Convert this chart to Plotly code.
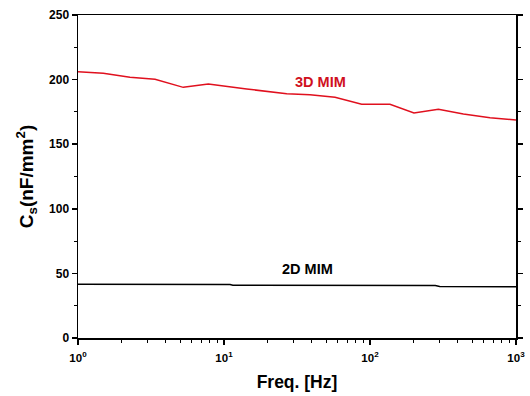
import plotly.graph_objects as go

# Data
freq_3d = [1, 1.49, 2.27, 3.37, 5.26, 7.81, 14.3, 26.9, 38.8, 57.6, 87.7, 137, 200, 294, 436, 664, 1000]
cs_3d = [206.1, 204.9, 201.8, 200.2, 194.0, 196.6, 192.7, 189.1, 188.3, 186.3, 180.9, 180.9, 174.1, 177.0, 173.4, 170.5, 168.7]

freq_2d = [1, 11.0, 11.5, 280, 300, 1000]
cs_2d = [41.6, 41.4, 40.8, 40.6, 39.8, 39.7]

x_tickvals = [1, 10, 100, 1000]
x_ticktext = ["<b>10<sup>0</sup></b>", "<b>10<sup>1</sup></b>", "<b>10<sup>2</sup></b>", "<b>10<sup>3</sup></b>"]
y_tickvals = [0, 50, 100, 150, 200, 250]
y_ticktext = ["<b>%d</b>" % v for v in y_tickvals]

font_family = "Liberation Sans, Arial, sans-serif"

fig = go.Figure()
fig.add_trace(go.Scatter(x=freq_3d, y=cs_3d, mode="lines",
                         line=dict(color="#e0101e", width=1.5), showlegend=False))
fig.add_trace(go.Scatter(x=freq_2d, y=cs_2d, mode="lines",
                         line=dict(color="#000000", width=1.5), showlegend=False))

fig.add_annotation(x=1.658, y=198, xref="x", yref="y", text="<b>3D MIM</b>",
                   showarrow=False, font=dict(color="#d0101e", size=14.5, family=font_family))
fig.add_annotation(x=1.575, y=53.4, xref="x", yref="y", text="<b>2D MIM</b>",
                   showarrow=False, font=dict(color="#000000", size=14.5, family=font_family))

fig.update_layout(
    width=530, height=396,
    margin=dict(l=78, r=14, t=15, b=58),
    paper_bgcolor="white", plot_bgcolor="white",
    font=dict(family=font_family, color="black"),
    xaxis=dict(
        type="log", range=[0, 3], automargin=False,
        tickvals=x_tickvals, ticktext=x_ticktext,
        showgrid=False, zeroline=False,
        showline=True, linecolor="black", linewidth=1.5, mirror=True,
        ticks="outside", ticklen=5, tickwidth=1.5, tickcolor="black",
        ticklabelstandoff=4,
        tickfont=dict(size=11.5, family=font_family),
        minor=dict(ticks="outside", ticklen=3, tickwidth=1, tickcolor="black", dtick="D1", showgrid=False),
        title=dict(text="<b>Freq. [Hz]</b>", font=dict(size=17.5, family=font_family), standoff=12),
    ),
    yaxis=dict(
        range=[0, 250], automargin=False,
        tickvals=y_tickvals, ticktext=y_ticktext,
        showgrid=False, zeroline=False,
        showline=True, linecolor="black", linewidth=1.5, mirror="ticks",
        ticks="outside", ticklen=5, tickwidth=1.5, tickcolor="black",
        tickfont=dict(size=12, family=font_family),
        minor=dict(ticks="outside", ticklen=3, tickwidth=1, tickcolor="black", dtick=25, showgrid=False),
        title=dict(text="<b>C<sub>s</sub>(nF/mm<sup>2</sup>)</b>", font=dict(size=19, family=font_family), standoff=10),
    ),
)

fig.write_html(
    "out.html",
    config={"displayModeBar": False, "staticPlot": True},
    post_script="document.body.style.margin='0';document.documentElement.style.overflow='hidden';document.body.style.overflow='hidden';",
)
